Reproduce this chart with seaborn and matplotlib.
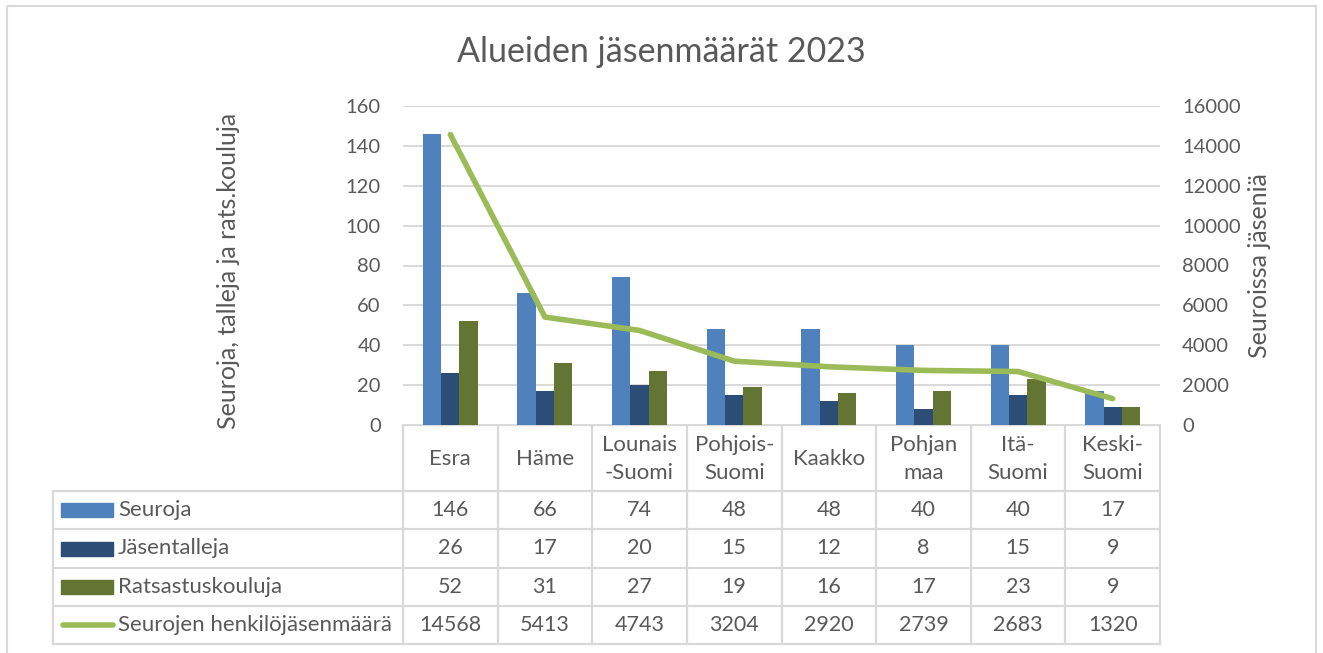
import numpy as np
import pandas as pd
import matplotlib
matplotlib.use("Agg")
import matplotlib.pyplot as plt
import matplotlib.transforms as mtransforms
from matplotlib.patches import Rectangle
import seaborn as sns

# data
alueet = ["Esra", "Häme", "Lounais\n-Suomi", "Pohjois-\nSuomi", "Kaakko",
          "Pohjan\nmaa", "Itä-\nSuomi", "Keski-\nSuomi"]
seuroja = [146, 66, 74, 48, 48, 40, 40, 17]
jasentalleja = [26, 17, 20, 15, 12, 8, 15, 9]
ratsastuskouluja = [52, 31, 27, 19, 16, 17, 23, 9]
henkilojasenet = [14568, 5413, 4743, 3204, 2920, 2739, 2683, 1320]

sarjat = ["Seuroja", "Jäsentalleja", "Ratsastuskouluja"]
viiva_nimi = "Seurojen henkilöjäsenmäärä"
varit = ["#4F81BD", "#2C4D75", "#647432"]
viiva_vari = "#9BBB59"
teksti = "#595959"
ruudukko = "#D9D9D9"

plt.rcParams["font.family"] = ["Lato", "DejaVu Sans"]
plt.rcParams["font.size"] = 15.5
plt.rcParams["text.color"] = teksti

df = pd.DataFrame({
    "alue": alueet * 3,
    "sarja": np.repeat(sarjat, len(alueet)),
    "arvo": seuroja + jasentalleja + ratsastuskouluja,
})

W, H = 1323, 653
fig = plt.figure(figsize=(W / 100, H / 100), dpi=100)
ax = fig.add_axes([403 / W, 1 - 425 / H, 757 / W, 319 / H])

sns.barplot(data=df, x="alue", y="arvo", hue="sarja", order=alueet, hue_order=sarjat,
            palette=varit, saturation=1, width=0.58, legend=False, ax=ax)
ax.set_ylim(0, 160)
ax.set_yticks(range(0, 161, 20))
ax.yaxis.grid(True, color=ruudukko, lw=1.4)
ax.set_axisbelow(True)
ax.tick_params(axis="x", length=0, labelbottom=False)
ax.tick_params(axis="y", length=0, pad=16, labelcolor=teksti, labelsize=14.5)
ax.set_xlabel("")
ax.set_ylabel("Seuroja, talleja ja rats.kouluja", fontsize=18, color=teksti)
ax.yaxis.set_label_coords(-0.23, 0.483)
ax.yaxis.label.set_verticalalignment("center")
for s in ax.spines.values():
    s.set_visible(False)

ax2 = ax.twinx()
sns.lineplot(x=np.arange(len(alueet)), y=henkilojasenet, color=viiva_vari, lw=4,
             solid_capstyle="round", ax=ax2)
ax2.set_ylim(0, 16000)
ax2.set_yticks(range(0, 16001, 2000))
ax2.tick_params(axis="y", length=0, pad=16, labelcolor=teksti, labelsize=14.5)
ax2.set_ylabel("Seuroissa jäseniä", fontsize=18, color=teksti)
ax2.yaxis.set_label_coords(1.132, 0.5)
ax2.yaxis.label.set_verticalalignment("center")
for s in ax2.spines.values():
    s.set_visible(False)
ax.set_xlim(-0.5, len(alueet) - 0.5)

# data table under the chart
tab = fig.add_axes([0, 0, 1, 1], zorder=-1)
tab.set_xlim(0, W)
tab.set_ylim(H, 0)
tab.axis("off")
trans = mtransforms.blended_transform_factory(ax.transData, tab.transData)

rivit = [425, 491, 529, 568, 606, 644]
lw = 1.6
for i in range(len(alueet) + 1):
    tab.plot([i - 0.5, i - 0.5], [rivit[0], rivit[-1]], color=ruudukko, lw=lw, transform=trans)
tab.plot([-0.5, len(alueet) - 0.5], [rivit[0]] * 2, color=ruudukko, lw=lw, transform=trans)
tab.plot([53, 53], [rivit[1], rivit[-1]], color=ruudukko, lw=lw)
for y in rivit[1:]:
    tab.plot([53, 1160], [y, y], color=ruudukko, lw=lw)

for i, nimi in enumerate(alueet):
    tab.text(i, (rivit[0] + rivit[1]) / 2 + 1, nimi, ha="center", va="center",
             fontsize=16, linespacing=1.55, transform=trans)

arvot = [seuroja, jasentalleja, ratsastuskouluja, henkilojasenet]
nimet = sarjat + [viiva_nimi]
for r, (nimi, rivi) in enumerate(zip(nimet, arvot)):
    cy = (rivit[r + 1] + rivit[r + 2]) / 2
    if r < 3:
        tab.add_patch(Rectangle((61, cy - 7), 52, 14, color=varit[r]))
    else:
        tab.plot([63, 113], [cy, cy], color=viiva_vari, lw=4, solid_capstyle="round")
    tab.text(118, cy, nimi, ha="left", va="center", fontsize=16)
    for i, v in enumerate(rivi):
        tab.text(i, cy, str(v), ha="center", va="center", transform=trans)

# outer frame and title
tab.add_patch(Rectangle((7, 6), 1309, 660, fill=False, ec=ruudukko, lw=1.5))
fig.text(661 / W, 1 - 52 / H, "Alueiden jäsenmäärät 2023", ha="center", va="center",
         fontsize=24.5, color=teksti)

fig.savefig("out.png", dpi=100, facecolor="white")
